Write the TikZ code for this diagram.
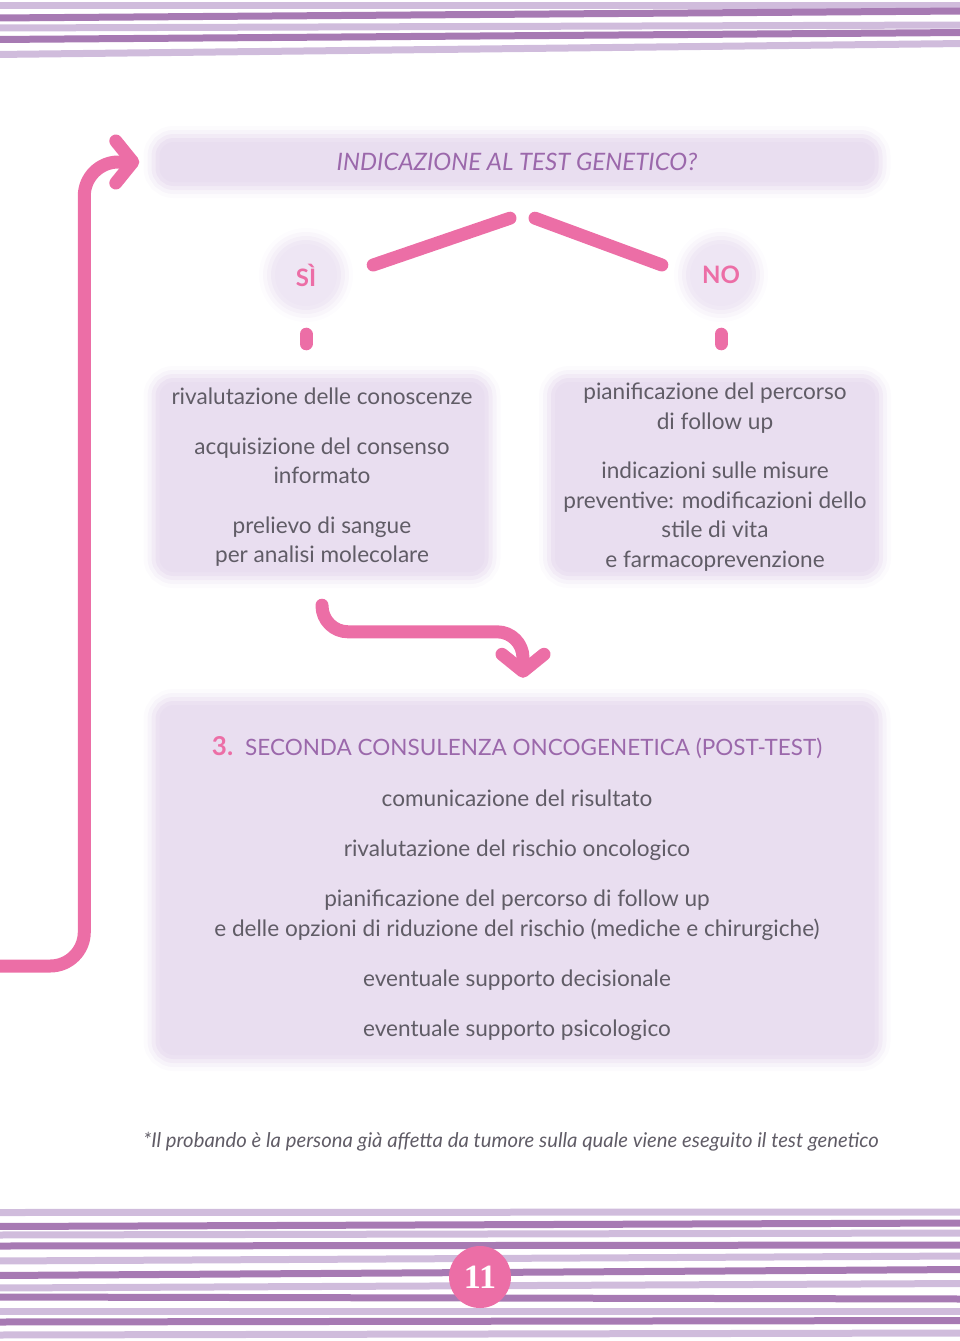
\documentclass[tikz,border=0pt]{standalone}
\usepackage{fontspec}
\setmainfont{Lato}
\newfontfamily\numberfont{Liberation Serif}
\usetikzlibrary{arrows.meta,positioning}
\definecolor{boxfill}{RGB}{233,222,240}
\definecolor{dotfill}{RGB}{238,230,244}
\definecolor{pinkline}{RGB}{236,110,166}
\definecolor{headpurple}{RGB}{155,104,171}
\definecolor{bodygrey}{RGB}{96,92,102}
\definecolor{stripelight}{RGB}{208,188,220}
\definecolor{stripedark}{RGB}{167,122,179}
\tikzset{
  soft box/.style={
    fill=boxfill,
    rounded corners=14pt,
    inner sep=0pt,
    align=center,
    text=bodygrey,
    font=\fontsize{22.6}{29.5}\selectfont,
    preaction={draw=boxfill, line width=8pt, opacity=.7},
    preaction={draw=boxfill, line width=16pt, opacity=.4},
    preaction={draw=boxfill, line width=24pt, opacity=.25},
    preaction={draw=boxfill, line width=32pt, opacity=.12}
  },
  soft dot/.style={
    circle,
    fill=dotfill,
    minimum size=62pt,
    inner sep=0pt,
    text=pinkline,
    font=\bfseries\fontsize{24}{26}\selectfont,
    preaction={draw=dotfill, line width=8pt, opacity=.7},
    preaction={draw=dotfill, line width=16pt, opacity=.4},
    preaction={draw=dotfill, line width=24pt, opacity=.25},
    preaction={draw=dotfill, line width=32pt, opacity=.12}
  },
  pink line/.style={
    draw=pinkline,
    line width=13pt,
    line cap=round
  },
  pink arrow/.style={
    pink line,
    line join=round,
    -{Straight Barb[round,length=17pt,width=42pt]}
  },
  stripe/.style={line width=7pt}
}
\begin{document}
\begin{tikzpicture}[x=1pt,y=-1pt,on grid]
      \useasboundingbox (0,0) rectangle (960,1341);
      \foreach \yl/\yr/\col in {5/5/stripelight,18/11/stripedark,28/25/stripelight,39.5/32.5/stripedark,54.5/43.5/stripelight,
                                1212.5/1212/stripelight,1226.5/1223/stripedark,1235/1233/stripelight,1246/1245/stripedark,
                                1261/1256/stripelight,1275.5/1269.5/stripedark,1288/1283.5/stripelight,1297/1299/stripedark,
                                1311.5/1311.5/stripelight,1322/1320.5/stripedark,1335/1333/stripelight}
        \draw[stripe,draw=\col] (-5,\yl) -- (965,\yr);
      \node[soft box,minimum width=715pt,minimum height=40pt,text=headpurple,
            font=\itshape\fontsize{24}{26}\selectfont] (title)    at (517,162)         {INDICAZIONE AL TEST GENETICO?};
      \node[soft dot]                                   (si)       at (306,275)         {SÌ};
      \node[soft dot]                                   (no)       [right=415pt of si]  {NO};
      \node[soft box,minimum width=325pt,minimum height=190pt] (leftbox)  at (322,477)
        {rivalutazione delle conoscenze\\[20.5pt]
         acquisizione del consenso\\
         informato\\[20pt]
         prelievo di sangue\\
         per analisi molecolare};
      \node[soft box,minimum width=320pt,minimum height=190pt] (rightbox) [right=393pt of leftbox]
        {pianificazione del percorso\\
         di follow up\\[20pt]
         indicazioni sulle misure\\
         preventive: modificazioni dello\\
         stile di vita\\
         e farmacoprevenzione};
      \node[soft box,minimum width=715pt,minimum height=350pt] (bigbox)   at (517,880)
        {\rule{0pt}{37pt}{\color{pinkline}\bfseries\fontsize{26}{26}\selectfont 3.}\hspace{12pt}{\color{headpurple}\fontsize{22.5}{26}\selectfont SECONDA CONSULENZA ONCOGENETICA (POST-TEST)}\\[21.5pt]
         comunicazione del risultato\\[20.5pt]
         rivalutazione del rischio oncologico\\[20.5pt]
         pianificazione del percorso di follow up\\
         e delle opzioni di riduzione del rischio (mediche e chirurgiche)\\[20.5pt]
         eventuale supporto decisionale\\[21pt]
         eventuale supporto psicologico};
      \node[text=bodygrey,font=\itshape\fontsize{20.3}{24}\selectfont] (note) at (511,1142)
        {*Il probando è la persona già affetta da tumore sulla quale viene eseguito il test genetico};
      \node[circle,fill=pinkline,minimum size=62pt,inner sep=0pt,text=white,
            font=\numberfont\bfseries\fontsize{34}{34}\selectfont] (page) at (480,1277) {11};
      \coordinate (loop start) at (-10,966);
      \draw[pink line] ([shift={(36pt,10pt)}]si.east)  -- ([shift={(-7pt,-36pt)}]title.south);
      \draw[pink line] ([shift={(18pt,-36pt)}]title.south) -- ([shift={(-28pt,10pt)}]no.west);
      \draw[pink line,shorten <=28pt,shorten >=38pt] (si.south) -- (si.south |- leftbox.north);
      \draw[pink line,shorten <=28pt,shorten >=38pt] (no.south) -- (no.south |- rightbox.north);
      \draw[pink arrow,rounded corners=34pt] (loop start) -| ([xshift=-75pt]title.west) -- ([xshift=-20pt]title.west);
      \draw[pink arrow,rounded corners=26pt] ([yshift=-33pt]leftbox.south) |- ([xshift=6pt,yshift=73pt]bigbox.north)
                                             -- ([xshift=6pt,yshift=27pt]bigbox.north);
\end{tikzpicture}
\end{document}
